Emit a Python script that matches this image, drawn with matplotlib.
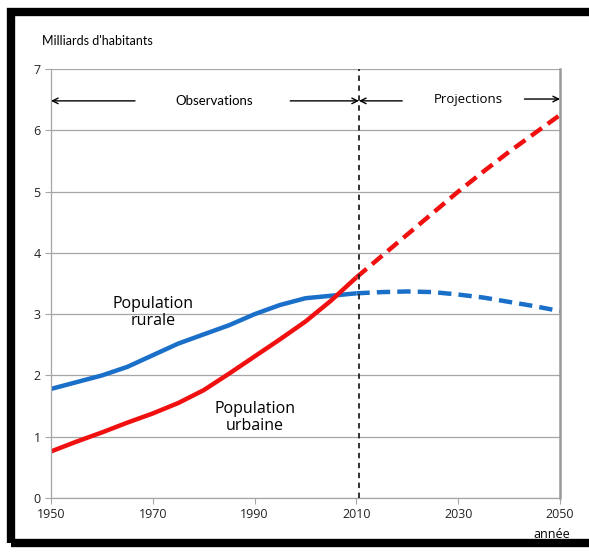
import matplotlib.pyplot as plt
import matplotlib.patches as mpatches

# ── Data (milliards d'habitants) ──────────────────────────────────
years_obs  = [1950, 1955, 1960, 1965, 1970, 1975, 1980, 1985, 1990, 1995, 2000, 2005, 2010]
rural_obs  = [1.78, 1.89, 2.00, 2.14, 2.33, 2.52, 2.67, 2.82, 3.00, 3.15, 3.26, 3.30, 3.34]
urban_obs  = [0.76, 0.92, 1.07, 1.23, 1.38, 1.55, 1.76, 2.03, 2.31, 2.59, 2.88, 3.22, 3.60]

years_proj = [2010, 2015, 2020, 2025, 2030, 2035, 2040, 2045, 2050]
rural_proj = [3.34, 3.36, 3.37, 3.36, 3.32, 3.27, 3.20, 3.13, 3.05]
urban_proj = [3.60, 3.95, 4.30, 4.65, 5.00, 5.33, 5.65, 5.95, 6.25]

split_year = 2010.5
xticks = [1950, 1970, 1990, 2010, 2030, 2050]
yticks = [0, 1, 2, 3, 4, 5, 6, 7]

BLUE = "#1a6fc9"
RED = "#f01010"
GRID = "#a6a6a6"
plt.rcParams.update({"font.family": ["Open Sans", "DejaVu Sans"]})

fig = plt.figure(figsize=(5.89, 5.52), dpi=100)
ax = fig.add_axes([0.0866, 0.0978, 0.8642, 0.7772])

ax.plot(years_obs, rural_obs, color=BLUE, lw=3.2, solid_capstyle="butt")
ax.plot(years_obs, urban_obs, color=RED, lw=3.2, solid_capstyle="butt")
ax.plot(years_proj, rural_proj, color=BLUE, lw=3.2, dashes=(3, 1.6))
ax.plot(years_proj, urban_proj, color=RED, lw=3.2, dashes=(3, 1.6))

ax.axvline(split_year, color="#222222", lw=1.3, ls=(0, (3, 2.5)), zorder=3)

ax.set_xlim(1950, 2050); ax.set_ylim(0, 7)
ax.set_xticks(xticks); ax.set_yticks(yticks)
ax.tick_params(labelsize=9, colors="#222222", length=4, width=0.8)
ax.tick_params(axis="both", color=GRID)
ax.yaxis.grid(True, color=GRID, lw=0.9); ax.set_axisbelow(True)
ax.spines["top"].set_visible(False)
for s in ["left", "bottom"]:
    ax.spines[s].set_color(GRID); ax.spines[s].set_linewidth(0.9)
ax.spines["right"].set_color("#999999"); ax.spines["right"].set_linewidth(1.8)

# ── Annotations ───────────────────────────────────────────────────
fig.text(0.071, 0.918, "Milliards d'habitants", fontsize=9, family=["Lato", "DejaVu Sans"])
fig.text(0.905, 0.025, "année", fontsize=9, ha="left")

arr = dict(arrowstyle="->", color="black", lw=1.0, shrinkA=0, shrinkB=0)
ax.annotate("", xy=(1950, 6.48), xytext=(1966.5, 6.48), arrowprops=arr)
ax.annotate("", xy=(split_year, 6.48), xytext=(1997, 6.48), arrowprops=arr)
ax.annotate("", xy=(split_year, 6.48), xytext=(2019, 6.48), arrowprops=arr)
ax.annotate("", xy=(2050, 6.51), xytext=(2043, 6.51), arrowprops=arr)
ax.text(1982, 6.48, "Observations", fontsize=9.5, ha="center", va="center",
        family=["Lato", "DejaVu Sans"])
ax.text(2032, 6.51, "Projections", fontsize=9.5, ha="center", va="center")

ax.text(1970, 3.03, "Population\nrurale", fontsize=11.5, ha="center", va="center",
        linespacing=1.1)
ax.text(1990, 1.32, "Population\nurbaine", fontsize=11.5, ha="center", va="center",
        linespacing=1.1)

# black frame like the original screenshot
fig.patches.append(mpatches.Rectangle((0.0195, 0.0165), 1.2, 0.962, fill=False,
                                      edgecolor="black", lw=6, transform=fig.transFigure))

fig.savefig("out.png", dpi=100)
